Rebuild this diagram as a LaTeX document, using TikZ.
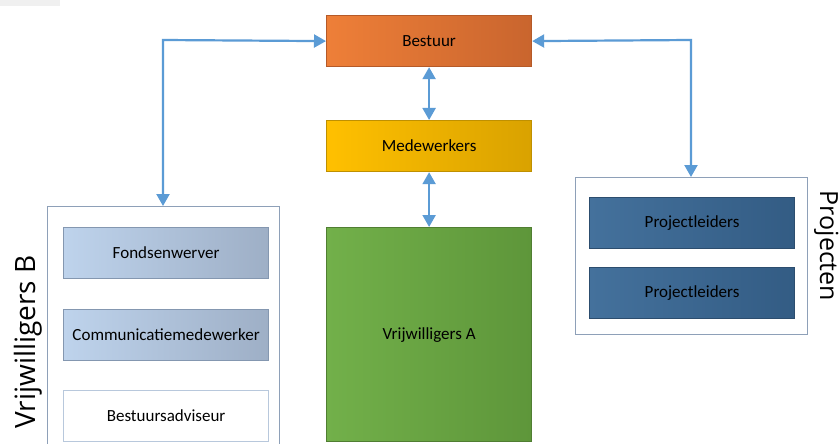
\documentclass[tikz,border=0pt]{standalone}
\usepackage{fontspec}
\setmainfont{Carlito}
\setsansfont{Open Sans}
\usetikzlibrary{arrows.meta}
\definecolor{arrowblue}{HTML}{5B9BD5}
\definecolor{orgA}{HTML}{EE7F38}
\definecolor{orgB}{HTML}{C9652E}
\definecolor{orgD}{HTML}{B55A28}
\definecolor{golA}{HTML}{FFC000}
\definecolor{golB}{HTML}{D9A200}
\definecolor{golD}{HTML}{BF9000}
\definecolor{grnA}{HTML}{72B04A}
\definecolor{grnB}{HTML}{5E963A}
\definecolor{grnD}{HTML}{507E32}
\definecolor{lbA}{HTML}{BED3EC}
\definecolor{lbB}{HTML}{9EAFC6}
\definecolor{lbD}{HTML}{8497B0}
\definecolor{dbA}{HTML}{44719C}
\definecolor{dbB}{HTML}{335C84}
\definecolor{dbD}{HTML}{2C4D6E}
\definecolor{frame}{HTML}{8EA0B8}
\definecolor{wbD}{HTML}{B8C8DC}
\tikzset{
  x=1pt, y=-1pt,
  boxbase/.style={minimum width=205pt, minimum height=51pt, inner sep=0pt, line width=1.2pt, font=\fontsize{17}{19}\selectfont},
  orangebox/.style={boxbase, draw=orgD, left color=orgA, right color=orgB},
  goldbox/.style={boxbase, draw=golD, left color=golA, right color=golB},
  greenbox/.style={boxbase, draw=grnD, left color=grnA, right color=grnB, minimum height=214pt},
  lightbox/.style={boxbase, draw=lbD, left color=lbA, right color=lbB},
  whitebox/.style={boxbase, draw=wbD, fill=white},
  darkbox/.style={boxbase, draw=dbD, left color=dbA, right color=dbB},
  framebox/.style={draw=frame, line width=1.2pt, fill=white, inner sep=0pt},
  conn/.style={draw=arrowblue, line width=2.2pt, {Triangle[length=12pt,width=13pt]}-{Triangle[length=12pt,width=13pt]}},
  sidelabel/.style={inner sep=0pt, anchor=base}
}
\begin{document}
\begin{tikzpicture}
\clip (0,0) rectangle (839,444);
\fill[white] (0,0) rectangle (839,444);
\fill[black!6] (0,0) rectangle (60,6);
% containers
\node[framebox, minimum width=232pt, minimum height=250pt, anchor=north west] (leftframe) at (47,206) {};
\node[framebox, minimum width=232pt, minimum height=157pt, anchor=north west] (rightframe) at (575,177) {};
% central boxes
\node[orangebox, anchor=north west] (bestuur) at (326,15) {Bestuur};
\node[goldbox, anchor=north west] (medew) at (326,120) {Medewerkers};
\node[greenbox, anchor=north west] (vrijA) at (326,227) {Vrijwilligers A};
% left boxes
\node[lightbox, anchor=north west] (fonds) at (63,227) {Fondsenwerver};
\node[lightbox, anchor=north west] (comm) at (63,309) {Communicatiemedewerker};
\node[whitebox, anchor=north west] (advis) at (63,390) {Bestuursadviseur};
% right boxes
\node[darkbox, anchor=north west] (proj1) at (589,197) {Projectleiders};
\node[darkbox, anchor=north west] (proj2) at (589,267) {Projectleiders};
% side labels
\node[sidelabel, rotate=90, font=\fontsize{28}{30}\selectfont\sffamily] (vrijB) at (35,342) {Vrijwilligers B};
\node[sidelabel, rotate=-90, font=\fontsize{25}{27}\selectfont\sffamily] (projecten) at (820,246) {Projecten};
% connectors
\draw[conn] (bestuur.south) -- (medew.north);
\draw[conn] (medew.south) -- (vrijA.north);
\coordinate (lc) at (163,40);
\coordinate (rc) at (691,40);
\draw[conn] (bestuur.west) -- (lc) -- (lc |- leftframe.north);
\draw[conn] (bestuur.east) -- (rc) -- (rc |- rightframe.north);
\end{tikzpicture}
\end{document}
